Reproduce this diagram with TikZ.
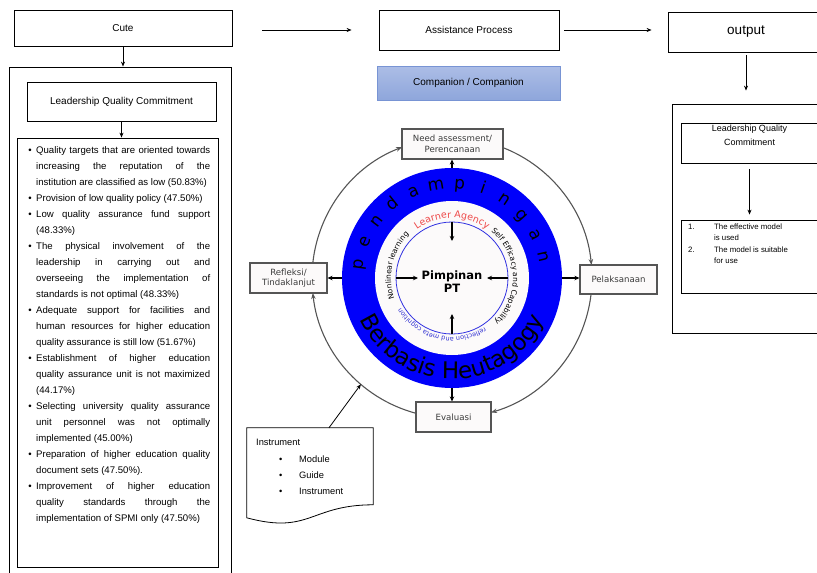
\documentclass[tikz,border=0pt]{standalone}
\usepackage{fontspec}
\setmainfont{Liberation Sans}
\newfontfamily\dv{DejaVu Sans}
\usetikzlibrary{arrows.meta,decorations.text,calc}
\definecolor{boxgray}{RGB}{85,85,85}
\definecolor{boxfill}{RGB}{252,250,250}
\definecolor{boxtext}{RGB}{60,60,60}
\definecolor{ringblue}{RGB}{0,0,250}
\definecolor{thinblue}{RGB}{50,50,225}
\definecolor{lagred}{RGB}{238,72,72}
\definecolor{refblue}{RGB}{50,50,210}
\definecolor{comptop}{RGB}{172,189,230}
\definecolor{compbot}{RGB}{142,166,219}
\definecolor{compborder}{RGB}{120,148,212}
\newcommand\jline[1]{\makebox[174pt][s]{#1}}
\newcommand\bult{\llap{\textbullet\hspace{4.5pt}}}
\begin{document}
\begin{tikzpicture}[x=1pt,y=-1pt,
  box/.style={draw, line width=0.8pt, inner sep=0, font=\fontsize{10}{12}\selectfont},
  arr/.style={-{Stealth[length=5pt,width=4pt]}, line width=0.8pt},
  cbox/.style={draw=boxgray, fill=boxfill, line width=1.1pt, inner sep=0, align=center,
    font=\dv\fontsize{8.6}{10.5}\selectfont, text=boxtext},
  gline/.style={draw=boxgray, line width=1.1pt, -{Stealth[length=6pt,width=4.5pt]}},
  darr/.style={-{Stealth[length=5pt,width=4.5pt]}, line width=1.1pt},
]
\useasboundingbox (0,0) rectangle (817,573);

% ---------- left column ----------
\node[box, minimum width=218, minimum height=36] (cute) at (123,28) {Cute};
\node[draw, line width=0.8pt, inner sep=0, minimum width=222, minimum height=513] (leftouter) at (120,323.5) {};
\node[box, minimum width=189, minimum height=39] (lqc) at (121.5,101.5) {Leadership Quality Commitment};
\node[draw, line width=0.8pt, inner sep=0, minimum width=201, minimum height=429] (bulletbox) at (117.5,352.5) {};
\draw[arr] (cute.south) -- (cute.south |- leftouter.north);
\draw[arr] (lqc.south) -- (lqc.south |- bulletbox.north);

\node[anchor=north west, inner sep=0, align=left, font=\fontsize{9.6}{16}\selectfont] (btext) at (36,146.4) {%
\bult\jline{Quality targets that are oriented towards}\\
\jline{increasing the reputation of the}\\
institution are classified as low (50.83\%)\\
\bult Provision of low quality policy (47.50\%)\\
\bult\jline{Low quality assurance fund support}\\
(48.33\%)\\
\bult\jline{The physical involvement of the}\\
\jline{leadership in carrying out and}\\
\jline{overseeing the implementation of}\\
standards is not optimal (48.33\%)\\
\bult\jline{Adequate support for facilities and}\\
\jline{human resources for higher education}\\
quality assurance is still low (51.67\%)\\
\bult\jline{Establishment of higher education}\\
\jline{quality assurance unit is not maximized}\\
(44.17\%)\\
\bult\jline{Selecting university quality assurance}\\
\jline{unit personnel was not optimally}\\
implemented (45.00\%)\\
\bult\jline{Preparation of higher education quality}\\
document sets (47.50\%).\\
\bult\jline{Improvement of higher education}\\
\jline{quality standards through the}\\
implementation of SPMI only (47.50\%)};

% ---------- top row ----------
\node[box, minimum width=180, minimum height=40] (assist) at (469,30) {Assistance Process};
\node[draw=compborder, top color=comptop, bottom color=compbot, line width=0.8pt, inner sep=0,
  minimum width=183, minimum height=34, font=\fontsize{10}{12}\selectfont] (comp) at (468.5,83) {Companion / Companion};
\node[box, minimum width=156, minimum height=40, font=\fontsize{13.5}{15}\selectfont] (output) at (746,32) {output};
\coordinate (a1s) at ($(cute.east |- assist.west)+(30,0)$);
\coordinate (a1e) at ($(assist.west)+(-27,0)$);
\draw[arr] (a1s) -- (a1e);
\coordinate (a2s) at ($(assist.east)+(5,0)$);
\coordinate (a2e) at ($(assist.east -| output.west)+(-16,0)$);
\draw[arr] (a2s) -- (a2e);

% ---------- right column ----------
\node[draw, line width=0.8pt, inner sep=0, minimum width=156, minimum height=229] (rightouter) at (750,218.5) {};
\node[box, minimum width=137, minimum height=40, align=center, anchor=north, font=\fontsize{9}{13.5}\selectfont] (rlqc) at (749.5,123) {};
\node[anchor=north, align=center, inner sep=0, font=\fontsize{9}{13.5}\selectfont] (rlqct) at (749.5,125) {Leadership Quality\\Commitment};
\node[draw, line width=0.8pt, inner sep=0, minimum width=137, minimum height=73] (result) at (749.5,256.5) {};
\node[anchor=north west, inner sep=0, align=left, font=\fontsize{7.8}{11.5}\selectfont] (rtext) at (688,223.5) {%
\makebox[26pt][l]{1.}The effective model\\
\hspace{26pt}is used\\
\makebox[26pt][l]{2.}The model is suitable\\
\hspace{26pt}for use};
\coordinate (a3s) at ($(output.south)+(0,3)$);
\coordinate (a3e) at ($(output.south |- rightouter.north)+(0,-13)$);
\draw[arr] (a3s) -- (a3e);
\coordinate (a4s) at ($(rlqc.south)+(0,5)$);
\coordinate (a4e) at ($(rlqc.south |- result.north)+(0,-5)$);
\draw[arr] (a4s) -- (a4e);

% ---------- cycle ----------
\begin{scope}[shift={(452,278)}, y=1pt]
  \coordinate (cc) at (0,0);
  \draw[gline] (173.8:140) arc[start angle=173.8, end angle=110.9, radius=140];
  \draw[gline] (68.6:140) arc[start angle=68.6, end angle=5.3, radius=140];
  \draw[gline] (-6.6:140) arc[start angle=-6.6, end angle=-73.8, radius=140];
  \draw[gline] (255.1:140) arc[start angle=255.1, end angle=186.15, radius=140];
  \coordinate (gtip) at (229.4:140);

  \node[circle, fill=ringblue, inner sep=0, minimum size=220] (ring) at (0,0) {};
  \node[circle, fill=boxfill, inner sep=0, minimum size=154] (wdisk) at (0,0) {};
  \node[circle, draw=thinblue, line width=0.8pt, inner sep=0, minimum size=112] (inner) at (0,0) {};

  \foreach \ch [count=\i from 0] in {p,e,n,d,a,m,p,i,n,g,a,n} {
    \pgfmathsetmacro\ang{172-\i*14.45}
    \node[rotate=\ang-90, anchor=base, inner sep=0, font=\dv\fontsize{17}{17}\selectfont] (pd\i) at (\ang:89.5) {\ch};
  }
  \path[decorate, decoration={text along path, text align=center,
    text={|\dv\fontsize{23}{23}\selectfont|Berbasis Heutagogy}}]
    (190:101) arc[start angle=190, end angle=350, radius=101];
  \path[decorate, decoration={text along path, text align=center, text color=lagred,
    text={|\dv\fontsize{9.5}{9.5}\selectfont|Learner Agency}}]
    (145:60) arc[start angle=145, end angle=35, radius=60];
  \path[decorate, decoration={text along path, text align=center,
    text={|\dv\fontsize{7.5}{7.5}\selectfont|Self Efficacy and Capability}}]
    (62:61) arc[start angle=62, end angle=-58, radius=61];
  \path[decorate, decoration={text along path, text align=center, text color=refblue,
    text={|\dv\fontsize{6.5}{6.5}\selectfont|reflection and meta cognition}}]
    (322:59) arc[start angle=322, end angle=192, radius=59];
  \path[decorate, decoration={text along path, text align=center,
    text={|\dv\fontsize{7.5}{7.5}\selectfont|Nonlinear learning}}]
    (212:61) arc[start angle=212, end angle=122, radius=61];

  \coordinate (itop) at (0,37);
  \coordinate (ileft) at (-34,0);
  \coordinate (iright) at (35,0);
  \coordinate (ibot) at (0,-36);
  \draw[darr] (inner.north) -- (itop);
  \draw[darr] (inner.west) -- (ileft);
  \draw[darr] (inner.east) -- (iright);
  \draw[darr] (inner.south) -- (ibot);
  \node[font=\dv\bfseries\fontsize{11.5}{13}\selectfont, align=center, inner sep=0] (pim) at (0,-3.5) {Pimpinan\\PT};
\end{scope}

\node[cbox, minimum width=101, minimum height=30] (need) at (452.5,144) {Need assessment/\\Perencanaan};
\node[cbox, minimum width=77, minimum height=29] (pel) at (618.5,279.5) {Pelaksanaan};
\node[cbox, minimum width=75, minimum height=30] (eval) at (453.5,417) {Evaluasi};
\node[cbox, minimum width=77, minimum height=30] (refl) at (288.5,278) {Refleksi/\\Tindaklanjut};
\draw[darr] (ring.north) -- (ring.north |- need.south);
\draw[darr] (ring.east) -- (ring.east -| pel.west);
\draw[darr] (ring.south) -- (ring.south |- eval.north);
\draw[darr] (ring.west) -- (ring.west -| refl.east);

% ---------- instrument ----------
\node[inner sep=0, minimum width=126, minimum height=90] (instr) at (310,473) {};
\draw[line width=0.8pt] (instr.north west) -- (instr.north east) -- ($(instr.north east)+(0,77)$)
  .. controls ($(instr.north)+(0,77)$) and ($(instr.north)+(0,107)$) .. ($(instr.north west)+(0,90)$) -- cycle;
\node[anchor=base west, inner sep=0, font=\fontsize{9.3}{11}\selectfont] (instrt) at (256,445) {Instrument};
\foreach \t/\yy [count=\k] in {Module/462,Guide/478,Instrument/494} {
  \node[anchor=base west, inner sep=0, font=\fontsize{9.3}{11}\selectfont] (ib\k) at (279,\yy) {\textbullet};
  \node[anchor=base west, inner sep=0, font=\fontsize{9.3}{11}\selectfont] (it\k) at (299,\yy) {\t};
}
\draw[arr] ($(instr.north west)!0.65!(instr.north east)$) -- (gtip);
\end{tikzpicture}
\end{document}
